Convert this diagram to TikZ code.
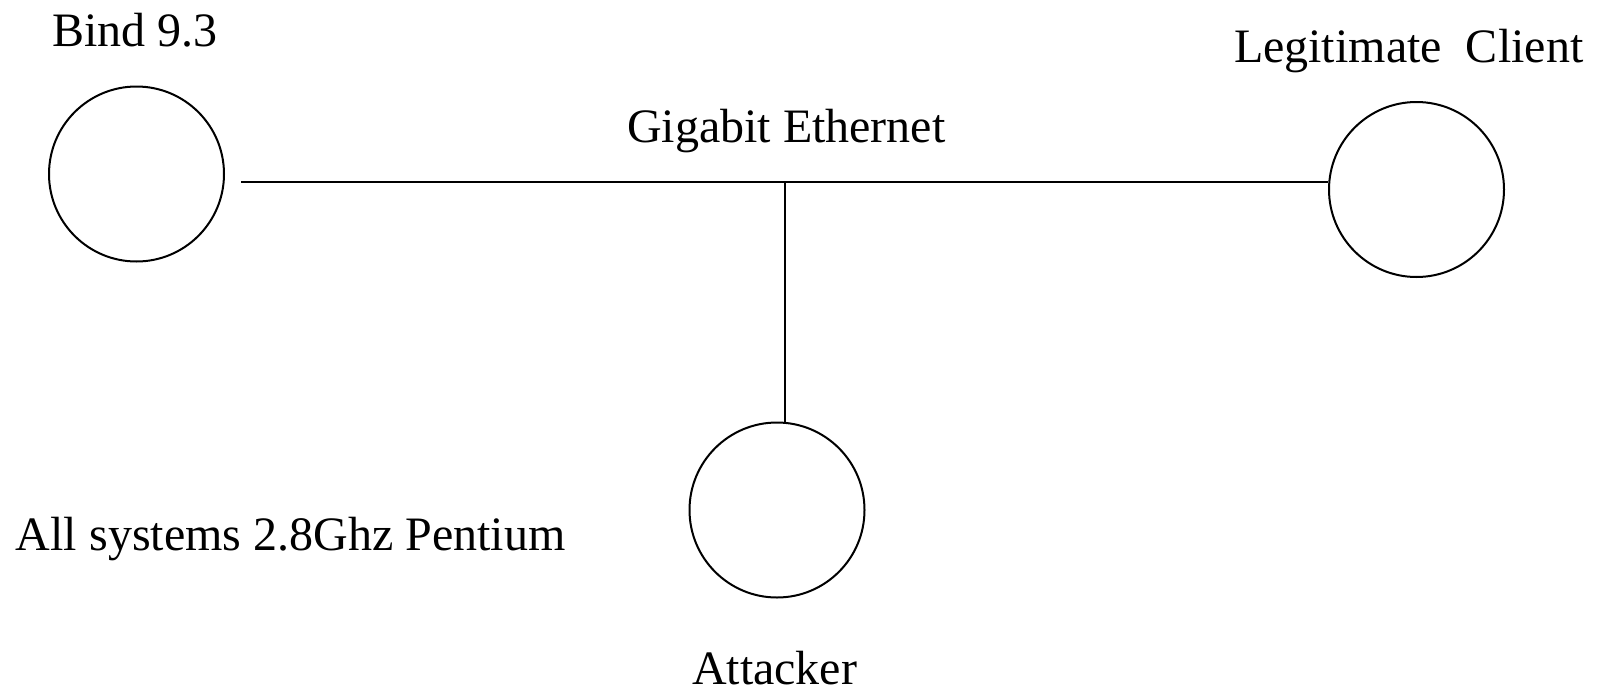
\documentclass[tikz,border=0pt]{standalone}
\usepackage{fontspec}
\setmainfont{Liberation Serif}
\begin{document}
\begin{tikzpicture}[x=1pt,y=-1pt,
  host/.style={circle,draw,line width=2pt,minimum size=175pt,inner sep=0pt},
  wire/.style={line width=2pt},
  lbl/.style={anchor=base west,inner sep=0pt,outer sep=0pt,font=\fontsize{48}{58}\selectfont}]
  \useasboundingbox (0,0) rectangle (1601,691);

  % hosts
  \node[host] (bind)     at (136.5,174)   {};
  \node[host] (client)   at (1416.5,189.5) {};
  \node[host] (attacker) at (777,510)     {};

  % labels
  \node[lbl] (bindlbl)   at (52,46)   {Bind 9.3};
  \node[lbl] (clientlbl) at (1234,62) {Legitimate\ \ Client};
  \node[lbl] (netlbl)    at (627,142) {Gigabit Ethernet};
  \node[lbl] (cpulbl)    at (16,550)  {All systems 2.8Ghz Pentium};
  \node[lbl,text depth=0pt] (attlbl) at (692,684) {Attacker};

  % shared bus with the attacker's drop line
  \coordinate (busL) at (241,182);
  \coordinate (tap) at (785,182);
  \draw[wire] (busL) -- (busL -| client.west);
  \draw[wire] (tap) -- (tap |- attacker.north);
\end{tikzpicture}
\end{document}
